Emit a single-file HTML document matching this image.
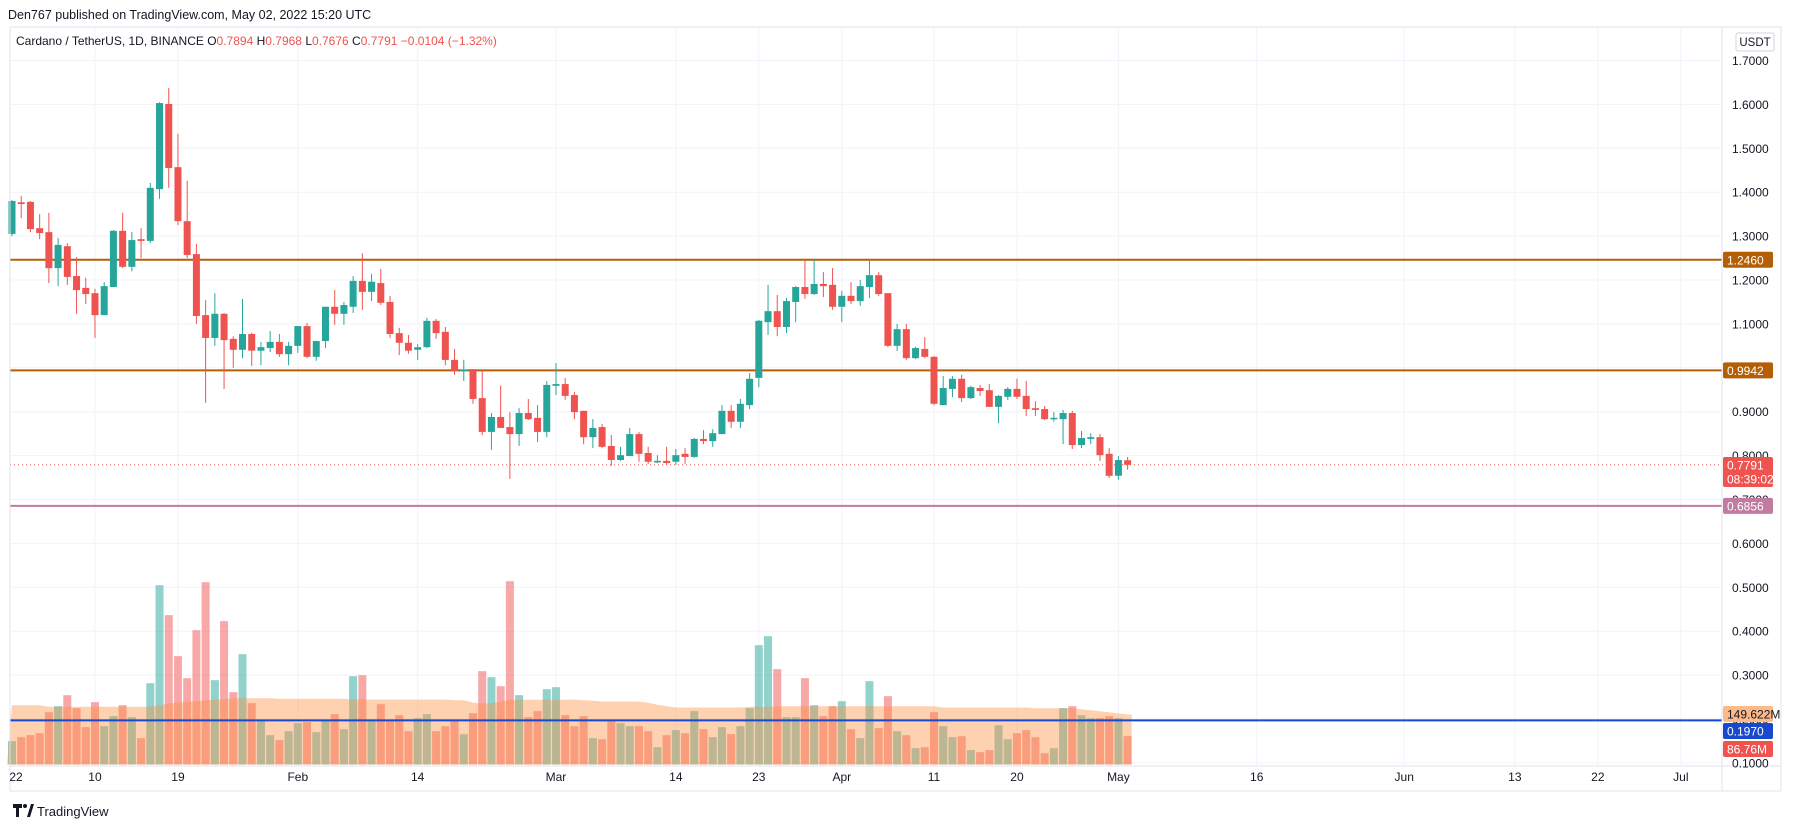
<!DOCTYPE html>
<html><head><meta charset="utf-8"><style>
html,body{margin:0;padding:0;background:#fff;width:1803px;height:828px;overflow:hidden}
svg{display:block;font-family:"Liberation Sans",sans-serif}
</style></head><body>
<svg id="chart" width="1803" height="828" viewBox="0 0 1803 828" xmlns="http://www.w3.org/2000/svg">
<rect x="0" y="0" width="1803" height="828" fill="#fff"/>
<text x="8" y="19" font-size="12.5" fill="#131722">Den767 published on TradingView.com, May 02, 2022 15:20 UTC</text>
<g id="grid"></g>
<g id="vol"></g>
<g id="levels"></g>
<g id="candles"></g>
<g id="axes"></g>
<text x="16" y="45" font-size="12" fill="#131722">Cardano / TetherUS, 1D, BINANCE <tspan fill="#131722">O</tspan><tspan fill="#ef5350">0.7894</tspan> <tspan>H</tspan><tspan fill="#ef5350">0.7968</tspan> <tspan>L</tspan><tspan fill="#ef5350">0.7676</tspan> <tspan>C</tspan><tspan fill="#ef5350">0.7791</tspan> <tspan fill="#ef5350">−0.0104 (−1.32%)</tspan></text>
<g>
<path d="M13 804h9v4h-3v9h-3v-9h-3z" fill="#131722"/><circle cx="25" cy="806" r="2" fill="#131722"/><path d="M27 817l4-13h3l-4 13z" fill="#131722"/>
<text x="37" y="816" font-size="13" fill="#131722">TradingView</text></g>
</svg>
<script>
const opens=[1.305,1.377,1.378,1.318,1.309,1.227,1.277,1.209,1.182,1.170,1.120,1.184,1.312,1.230,1.293,1.289,1.407,1.601,1.457,1.334,1.259,1.120,1.068,1.123,1.066,1.041,1.077,1.039,1.045,1.059,1.031,1.050,1.095,1.025,1.061,1.139,1.123,1.139,1.198,1.173,1.193,1.150,1.079,1.057,1.041,1.047,1.107,1.082,1.018,0.993,0.997,0.931,0.854,0.888,0.865,0.849,0.897,0.886,0.854,0.959,0.963,0.938,0.902,0.842,0.865,0.822,0.790,0.799,0.849,0.806,0.786,0.788,0.786,0.804,0.797,0.838,0.833,0.849,0.902,0.877,0.915,0.977,1.104,1.129,1.093,1.150,1.184,1.168,1.191,1.189,1.139,1.164,1.152,1.184,1.211,1.170,1.050,1.088,1.022,1.043,1.025,0.915,0.952,0.975,0.931,0.954,0.949,0.911,0.934,0.952,0.936,0.908,0.906,0.884,0.883,0.897,0.824,0.838,0.842,0.804,0.754,0.7894];
const highs=[1.382,1.391,1.380,1.350,1.353,1.296,1.284,1.252,1.205,1.180,1.195,1.314,1.353,1.309,1.318,1.421,1.605,1.637,1.533,1.426,1.282,1.154,1.170,1.125,1.072,1.157,1.080,1.059,1.084,1.077,1.059,1.095,1.102,1.061,1.139,1.177,1.150,1.209,1.261,1.214,1.225,1.164,1.091,1.075,1.054,1.114,1.111,1.093,1.043,1.018,0.997,0.993,0.897,0.959,0.899,0.908,0.929,0.915,0.970,1.011,0.977,0.945,0.902,0.883,0.872,0.847,0.820,0.863,0.854,0.820,0.801,0.820,0.815,0.817,0.840,0.858,0.860,0.915,0.915,0.929,0.988,1.109,1.189,1.166,1.159,1.186,1.246,1.246,1.218,1.227,1.175,1.195,1.200,1.246,1.218,1.170,1.100,1.100,1.048,1.070,1.027,0.981,0.981,0.984,0.959,0.961,0.963,0.938,0.956,0.975,0.970,0.924,0.913,0.899,0.904,0.902,0.856,0.851,0.849,0.817,0.799,0.7968];
const lows=[1.300,1.341,1.309,1.293,1.193,1.186,1.189,1.123,1.145,1.068,1.120,1.184,1.227,1.220,1.250,1.284,1.385,1.410,1.325,1.250,1.100,0.920,1.050,0.952,1.000,1.022,1.004,1.006,1.036,1.025,1.006,1.034,1.022,1.016,1.045,1.098,1.098,1.125,1.132,1.152,1.143,1.068,1.029,1.032,1.018,1.045,1.066,1.006,0.984,0.970,0.918,0.847,0.813,0.863,0.747,0.822,0.881,0.831,0.842,0.938,0.927,0.883,0.826,0.817,0.817,0.776,0.788,0.799,0.786,0.781,0.783,0.779,0.779,0.781,0.795,0.826,0.820,0.849,0.863,0.863,0.906,0.956,1.075,1.072,1.079,1.104,1.157,1.166,1.161,1.132,1.104,1.145,1.141,1.159,1.164,1.047,1.038,1.018,1.020,1.022,0.915,0.915,0.933,0.922,0.929,0.936,0.911,0.874,0.927,0.929,0.890,0.890,0.881,0.877,0.826,0.815,0.817,0.826,0.788,0.749,0.745,0.7676];
const closes=[1.380,1.373,1.316,1.307,1.227,1.280,1.207,1.177,1.168,1.120,1.186,1.312,1.230,1.291,1.289,1.410,1.603,1.455,1.334,1.257,1.118,1.068,1.123,1.063,1.041,1.077,1.039,1.047,1.059,1.031,1.050,1.095,1.025,1.061,1.139,1.123,1.143,1.198,1.173,1.196,1.148,1.077,1.057,1.039,1.047,1.107,1.079,1.018,0.993,0.996,0.929,0.854,0.888,0.863,0.849,0.897,0.883,0.854,0.961,0.963,0.936,0.899,0.842,0.863,0.820,0.790,0.801,0.849,0.804,0.786,0.788,0.783,0.801,0.797,0.838,0.833,0.851,0.902,0.877,0.918,0.975,1.107,1.129,1.093,1.152,1.184,1.168,1.191,1.186,1.139,1.164,1.152,1.186,1.211,1.168,1.050,1.088,1.022,1.045,1.025,0.918,0.954,0.975,0.931,0.956,0.947,0.911,0.936,0.952,0.934,0.906,0.904,0.883,0.886,0.897,0.824,0.840,0.842,0.801,0.754,0.790,0.7791];
const volumes=[70,82,88,94,157,175,208,169,112,187,115,145,178,142,79,244,538,448,325,259,403,547,253,430,217,331,184,133,88,73,100,124,127,97,133,151,106,265,268,133,181,133,148,100,139,151,100,115,130,91,154,280,262,235,550,208,142,160,226,232,148,115,145,79,76,130,124,115,115,100,52,88,103,94,160,106,82,112,91,115,169,358,385,286,142,142,259,178,145,175,190,106,79,250,109,205,100,88,49,52,157,115,82,85,43,37,43,118,76,94,103,82,34,49,169,175,148,139,139,145,139,85];
const volumeMA=[178,178,178,178,173,173,173,173,173,173,173,173,173,173,173,173,178,183,186,188,190,193,195,196,198,199,199,199,199,197,197,197,197,197,197,197,197,195,195,195,195,195,195,195,195,195,195,195,193,193,186,183,184,189,194,194,194,194,194,194,194,195,193,191,189,189,189,189,189,185,179,175,171,171,171,171,171,171,171,171,173,173,173,175,175,175,175,175,175,175,175,175,175,175,175,175,175,175,175,175,175,171,171,171,171,171,171,171,171,171,171,169,169,169,169,169,166,163,160,157,153,150];
const priceTicks=["1.7000","1.6000","1.5000","1.4000","1.3000","1.2000","1.1000","1.0000","0.9000","0.8000","0.7000","0.6000","0.5000","0.4000","0.3000","0.2000","0.1000"];
const timeTickDays=[0,9,18,31,44,59,72,81,90,100,109,120,135,151,163,172,181];
const timeTickLabels=["22","10","19","Feb","14","Mar","14","23","Apr","11","20","May","16","Jun","13","22","Jul"];
const levelPrices=[1.2460,0.9942,0.6856,0.1970];
const levelLabels=["1.2460","0.9942","0.6856","0.1970"];

const NS="http://www.w3.org/2000/svg";
const PL=10,PR=1722,PT=27,PB=766;
function xs(i){return 12+i*9.22;}
function ys(p){return 280-(p-1.2)*439;}
function yv(v){return 764.5-v/3;}
function mk(tag,attrs,parent){const e=document.createElementNS(NS,tag);for(const k in attrs)e.setAttribute(k,attrs[k]);parent.appendChild(e);return e;}
const grid=document.getElementById('grid'),vol=document.getElementById('vol'),lev=document.getElementById('levels'),cg=document.getElementById('candles'),ax=document.getElementById('axes');

// grid
priceTicks.forEach(t=>{const y=ys(parseFloat(t));
 const l=mk('line',{x1:PL,x2:PR,y1:y,y2:y,stroke:'#f0f3fa','stroke-width':1},grid);
 
 });
timeTickDays.forEach(d=>{const x=xs(d);if(x<PL+5)return;
 const l=mk('line',{x1:x,x2:x,y1:PT,y2:PB,stroke:'#f0f3fa','stroke-width':1},grid);
 
 });

// volume bars
volumes.forEach((v,i)=>{const up=closes[i]>=opens[i];
 const r=mk('rect',{x:xs(i)-4,y:yv(v),width:8,height:764.5-yv(v),fill:up?'rgba(38,166,154,0.5)':'rgba(239,83,80,0.5)'},vol);
 
 });
let d='M'+(xs(0)-5)+' 764.5';
volumeMA.forEach((v,i)=>{d+=' L'+xs(i)+' '+yv(v).toFixed(1);});
d+=' L'+(xs(volumeMA.length-1)+4)+' '+yv(volumeMA[volumeMA.length-1]).toFixed(1)+' L'+(xs(volumeMA.length-1)+4)+' 764.5 Z';
const area=mk('path',{d:d,fill:'rgba(252,140,60,0.4)'},vol);



// level lines
const levColors=['#b45f06','#b45f06','#c27ba0','#1848cc'];
const levWidths=[2,2,2,2];
levelPrices.forEach((p,k)=>{const y=ys(p);
 const l=mk('line',{x1:PL,x2:PR,y1:y,y2:y,stroke:levColors[k],'stroke-width':levWidths[k]},lev);
 
 });
const cp=mk('line',{x1:PL,x2:PR,y1:ys(closes[closes.length-1]),y2:ys(closes[closes.length-1]),stroke:'#ef5350','stroke-width':1,'stroke-dasharray':'1 3'},lev);



// candles
opens.forEach((o,i)=>{const c=closes[i],up=c>=o,col=up?'#26a69a':'#ef5350',x=xs(i);
 const g=mk('g',{},cg);
 
 
 mk('line',{x1:x,x2:x,y1:ys(highs[i]),y2:ys(lows[i]),stroke:col,'stroke-width':1},g);
 const top=ys(Math.max(o,c)),bot=ys(Math.min(o,c));
 mk('rect',{x:x-3.5,y:top,width:7,height:Math.max(1.5,bot-top),fill:col},g);});

// axes frame
[[PL,PT,PL,PB+25],[PR,PT,PR,PB+25],[PL,PB,1781,PB],[PL,PB+25,1781,PB+25],[1781,PT,1781,PB+25],[PL,PT,1781,PT]].forEach(a=>{
 const l=mk('line',{x1:a[0],y1:a[1],x2:a[2],y2:a[3],stroke:'#e0e3eb','stroke-width':1},ax);
 
 });
priceTicks.forEach(t=>{const y=ys(parseFloat(t));
 const e=mk('text',{x:1732,y:y+4.5,'font-size':12,fill:'#131722'},ax);e.textContent=t;
 
 });
timeTickDays.forEach((dd,k)=>{const e=mk('text',{x:Math.max(xs(dd),16),y:781,'font-size':12,fill:'#131722','text-anchor':'middle'},ax);e.textContent=timeTickLabels[k];
 
 });
// USDT box
const ub=mk('rect',{x:1736,y:33,width:38,height:18,rx:2,fill:'#fff',stroke:'#d1d4dc'},ax);


const ut=mk('text',{x:1755,y:46,'font-size':11.5,fill:'#131722','text-anchor':'middle'},ax);ut.textContent='USDT';


// price labels
function plabel(y,h,bg,fg,lines,name){const g=mk('g',{},ax);
 
 
 mk('rect',{x:1723,y:y-h/2,width:50,height:h,rx:2,fill:bg},g);
 lines.forEach((s,k)=>{const t=mk('text',{x:1727,y:y-h/2+12.5+k*14,'font-size':12,fill:fg},g);t.textContent=s;});}
plabel(ys(levelPrices[0]),16,'#b45f06','#fff',[levelLabels[0]],'level-label-high');
plabel(ys(levelPrices[1]),16,'#b45f06','#fff',[levelLabels[1]],'level-label-mid');
plabel(472,30,'#ef5350','#fff',[closes[closes.length-1].toFixed(4),'08:39:02'],'last-price-label');
plabel(ys(levelPrices[2]),16,'#c27ba0','#fff',[levelLabels[2]],'level-label-low');
plabel(714,16,'#fcb98a','#131722',['149.622M'],'volume-ma-label');
plabel(731,16,'#1848cc','#fff',[levelLabels[3]],'level-label-blue');
plabel(749,16,'#ef5350','#fff',['86.76M'],'volume-label');
</script>
</body></html>
